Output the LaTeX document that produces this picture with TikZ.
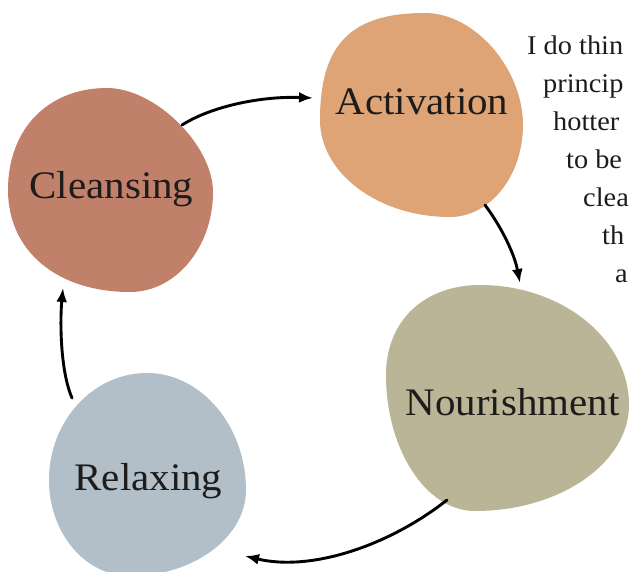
\documentclass[tikz,border=0pt]{standalone}
\usepackage{fontspec}
\setmainfont{Liberation Serif}
\newfontfamily\labfont[FakeStretch=1.05]{Liberation Serif}
\newfontfamily\notefont[FakeStretch=1.05]{Liberation Serif}
\usepackage{tikz}
\usetikzlibrary{arrows.meta}
\definecolor{cleansecol}{HTML}{C0806A}
\definecolor{activecol}{HTML}{DEA476}
\definecolor{nourishcol}{HTML}{B9B596}
\definecolor{relaxcol}{HTML}{B2BEC8}
\definecolor{ink}{HTML}{1E1C1B}
\tikzset{
  lab/.style={font=\labfont\fontsize{39}{41}\selectfont, text=ink, inner sep=0pt, anchor=base},
  note/.style={font=\notefont\fontsize{27}{29}\selectfont, text=ink, inner sep=0pt, anchor=base west},
  flow/.style={->, line width=2.9pt, line cap=round}
}

\begin{document}
\begin{tikzpicture}[>={Latex[length=14pt,width=11pt]}, x=1pt, y=-1pt]
        \useasboundingbox (0,0) rectangle (630,572);
        % blobs: top .. right .. bottom .. left
        \fill[cleansecol] (107,88) .. controls (155,88) and (213,145) .. (213,192)
          .. controls (213,247) and (176,292) .. (130,292)
          .. controls (57,292) and (8,251) .. (8,190)
          .. controls (8,129) and (48,88) .. cycle;
        \fill[activecol] (425,13) .. controls (475,13) and (523,69) .. (523,125)
          .. controls (523,176) and (490,217) .. (450,217)
          .. controls (378,217) and (320,173) .. (320,120)
          .. controls (320,45) and (350,13) .. cycle;
        \fill[nourishcol] (480,285) .. controls (562,285) and (629,339) .. (629,405)
          .. controls (629,463) and (560,511) .. (475,511)
          .. controls (425,511) and (386,448) .. (386,375)
          .. controls (386,320) and (425,285) .. cycle;
        \fill[relaxcol] (147,373) .. controls (201,373) and (246,426) .. (246,490)
          .. controls (246,537) and (194,576) .. (130,576)
          .. controls (85,576) and (49,533) .. (49,480)
          .. controls (49,421) and (93,373) .. cycle;
        % labels
        \node[lab] (cleansing) at (111.5,199) {Cleansing};
        \node[lab] (activation) at (422,115) {Activation};
        \node[lab] (nourishment) at (512.5,415) {Nourishment};
        \node[lab] (relaxing) at (148.5,490) {Relaxing};
        % arrow ends
        \coordinate (cl-out) at (182,125);
        \coordinate (ac-in) at (313,98);
        \coordinate (ac-out) at (485,205);
        \coordinate (no-in) at (520,283);
        \coordinate (no-out) at (447,500);
        \coordinate (re-in) at (245,556);
        \coordinate (re-out) at (72,398);
        \coordinate (cl-in) at (63,288);
        \draw[flow] (cl-out) .. controls (212,106) and (262,96) .. (ac-in);
        \draw[flow] (ac-out) .. controls (500,225) and (514,252) .. (no-in);
        \draw[flow] (no-out) .. controls (390,545) and (312,572) .. (re-in);
        \draw[flow] (re-out) .. controls (60,370) and (60,320) .. (cl-in);
        % text on the right
        \node[note] (t1) at (527,55) {I do thin};
        \node[note] (t2) at (543,93) {princip};
        \node[note] (t3) at (553,131) {hotter};
        \node[note] (t4) at (566,169) {to be};
        \node[note] (t5) at (583,207) {clea};
        \node[note] (t6) at (602,245) {th};
        \node[note] (t7) at (615,283) {a};
    \end{tikzpicture}
\end{document}
